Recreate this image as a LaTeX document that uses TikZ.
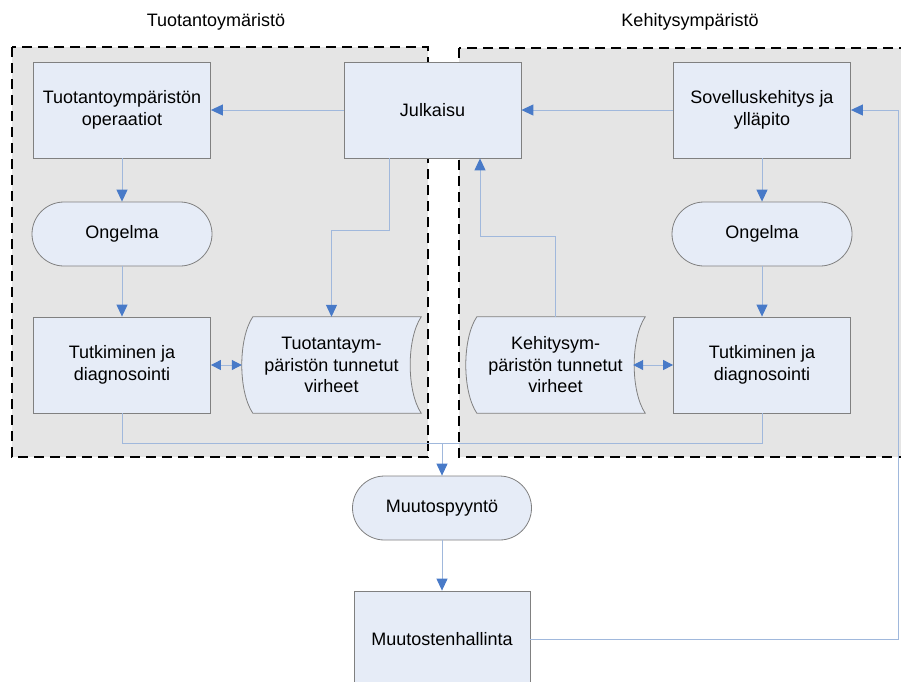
\documentclass[tikz,border=0pt]{standalone}
\usepackage{fontspec}
\setmainfont{Liberation Sans}
\usetikzlibrary{arrows.meta,backgrounds}
\definecolor{zonegray}{RGB}{229,229,229}
\definecolor{boxfill}{RGB}{230,236,247}
\definecolor{boxline}{RGB}{128,128,128}
\definecolor{wirecol}{RGB}{160,184,220}
\definecolor{tipblue}{RGB}{72,122,200}

% stored-data symbol drawn around a (text-free sized) node
\newcommand{\storeshape}[1]{%
  \path[storeline]
    ([xshift=11pt]#1.north west) -- (#1.north east)
    .. controls ([xshift=-14.7pt,yshift=-22pt]#1.north east) and ([xshift=-14.7pt,yshift=22pt]#1.south east) .. (#1.south east)
    -- ([xshift=11pt]#1.south west)
    .. controls ([xshift=-3.7pt,yshift=22pt]#1.south west) and ([xshift=-3.7pt,yshift=-22pt]#1.north west) .. ([xshift=11pt]#1.north west)
    -- cycle;}

\begin{document}
\begin{tikzpicture}[x=1pt,y=-1pt,
  every node/.style={font=\fontsize{18}{21.5}\selectfont, align=center, inner sep=0pt},
  procbox/.style={draw=boxline, fill=boxfill, line width=0.8pt, minimum width=177pt, minimum height=96pt},
  termbox/.style={draw=boxline, fill=boxfill, line width=0.8pt, minimum width=180pt, minimum height=64pt, rounded corners=32pt},
  storebox/.style={minimum width=179pt, minimum height=96pt},
  storeline/.style={draw=boxline, fill=boxfill, line width=0.8pt},
  zone/.style={draw=black, fill=zonegray, line width=2pt, dash pattern=on 10pt off 6pt},
  wire/.style={draw=wirecol, line width=1pt},
  flow/.style={wire, -{Triangle[length=12pt,width=11pt,color=tipblue,fill=tipblue]}},
  twoway/.style={wire, {Triangle[length=10pt,width=10pt,color=tipblue,fill=tipblue]}-{Triangle[length=10pt,width=10pt,color=tipblue,fill=tipblue]}}
]
\useasboundingbox (0,0) rectangle (901,681);

% environment areas
\begin{scope}[on background layer]
  \path[zone] (12,47) rectangle (428,457);
  \path[zone] (459,48) rectangle (915,457);
\end{scope}

% area titles
\node (ttuo) at (216,22) {Tuotantoymäristö};
\node (tkeh) at (690,22) {Kehitysympäristö};

% top row
\node[procbox] (oper) at (122,110) {Tuotantoympäristön\\operaatiot};
\node[procbox] (julk) at (432.5,110) {Julkaisu};
\node[procbox] (sove) at (762,110) {Sovelluskehitys ja\\ylläpito};

% problems
\node[termbox] (ong1) at (122,234) {Ongelma};
\node[termbox] (ong2) at (762,234) {Ongelma};

% investigation
\node[procbox] (tut1) at (122,365) {Tutkiminen ja\\diagnosointi};
\node[procbox] (tut2) at (762,365) {Tutkiminen ja\\diagnosointi};

% known errors (stored data)
\node[storebox] (vir1) at (331.5,365) {Tuotantaym-\\päristön tunnetut\\virheet};
\node[storebox] (vir2) at (555.5,365) {Kehitysym-\\päristön tunnetut\\virheet};
\begin{scope}[on background layer]
  \storeshape{vir1}
  \storeshape{vir2}
\end{scope}

% change handling
\node[termbox, minimum width=179pt] (pyyn) at (442,508) {Muutospyyntö};
\node[procbox, minimum width=176pt] (hall) at (442,639) {Muutostenhallinta};

% connectors
\draw[flow] (julk.west) -- (oper.east);
\draw[flow] (sove.west) -- (julk.east);
\draw[flow] (oper.south) -- (ong1.north);
\draw[flow] (ong1.south) -- (tut1.north);
\draw[flow] (sove.south) -- (ong2.north);
\draw[flow] (ong2.south) -- (tut2.north);
\draw[flow] ([xshift=-43.5pt]julk.south) -- ++(0,72) -| (vir1.north);
\draw[flow] (vir2.north) -- ++(0,-80) -| ([xshift=47.5pt]julk.south);
\draw[twoway] (tut1.east) -- (vir1.west);
\draw[twoway] ([xshift=-12pt]vir2.east) -- (tut2.west);

\coordinate (merge) at (442,443);
\draw[wire] (tut1.south) |- (merge);
\draw[wire] (tut2.south) |- (merge);
\draw[flow] (merge) -- (pyyn.north);
\draw[flow] (pyyn.south) -- (hall.north);
\draw[flow] (hall.east) -- ++(368,0) |- (sove.east);
\end{tikzpicture}
\end{document}
